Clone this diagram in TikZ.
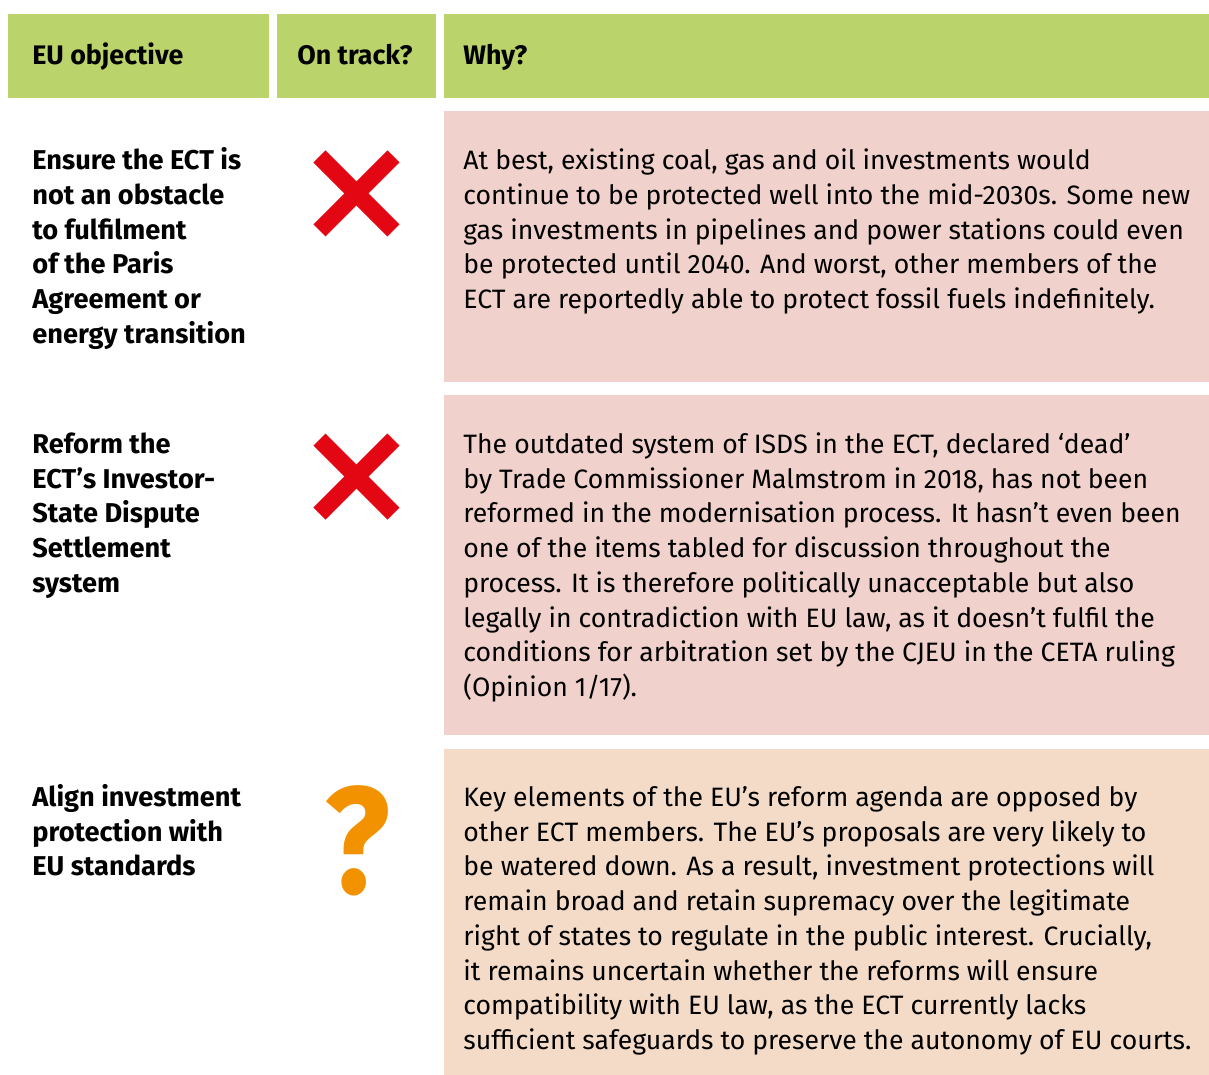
\documentclass[tikz,border=0pt]{standalone}
\usepackage{fontspec}
\setmainfont{Fira Sans}
\usepackage{xcolor}
\usetikzlibrary{positioning}

\definecolor{headgreen}{RGB}{186,211,106}
\definecolor{rowpink}{RGB}{240,209,203}
\definecolor{rowpeach}{RGB}{243,219,200}
\definecolor{nored}{RGB}{227,6,19}
\definecolor{maybeorange}{RGB}{243,146,0}

\begin{document}
\begin{tikzpicture}[x=0.5pt,y=-0.5pt,
    head/.style={anchor=base west,inner sep=0pt,font=\fontsize{13.4}{17.375}\selectfont\bfseries},
    goal/.style={anchor=base west,inner sep=0pt,align=left,font=\fontsize{13.6}{17.375}\selectfont\bfseries},
    why/.style={anchor=base west,inner sep=0pt,align=left,font=\fontsize{13.3}{17.375}\selectfont},
    nocross/.style={line width=8.5pt,nored}]
    \useasboundingbox (0,0) rectangle (1209,1075);

    % Header cells
    \fill[headgreen] (8,14) rectangle (269,98);
    \fill[headgreen] (277,14) rectangle (436,98);
    \fill[headgreen] (444,14) rectangle (1209,98);
    \node[head] (hgoal) at (32,65) {EU objective};
    \node[head] (htrack) at (297,65) {On track?};
    \node[head] (hwhy) at (463,65) {Why?};

    % Row backgrounds
    \fill[rowpink] (444,111) rectangle (1209,382);
    \fill[rowpink] (444,395) rectangle (1209,735);
    \fill[rowpeach] (444,749) rectangle (1209,1075);

    % Row 1 (nodes sit on their last baseline)
    \node[goal] (goal1) at (32,343.25) {Ensure the ECT is\\not an obstacle\\to fulfilment\\of the Paris\\Agreement or\\energy transition};
    \coordinate (mark1) at (356.4,193.4);
    \draw[nocross] (mark1) ++(-37,-37) -- ++(74,74);
    \draw[nocross] (mark1) ++(-37,37) -- ++(74,-74);
    \node[why] (why1) at (463,308.5) {At best, existing coal, gas and oil investments would\\continue to be protected well into the mid-2030s. Some new\\gas investments in pipelines and power stations could even\\be protected until 2040. And worst, other members of the\\ECT are reportedly able to protect fossil fuels indefinitely.};

    % Row 2
    \node[goal] (goal2) at (32,592.3) {Reform the\\ECT’s Investor-\\State Dispute\\Settlement\\system};
    \coordinate (mark2) at (356.4,476.6);
    \draw[nocross] (mark2) ++(-37,-37) -- ++(74,74);
    \draw[nocross] (mark2) ++(-37,37) -- ++(74,-74);
    \node[why] (why2) at (463,696.6) {The outdated system of ISDS in the ECT, declared ‘dead’\\by Trade Commissioner Malmstrom in 2018, has not been\\reformed in the modernisation process. It hasn’t even been\\one of the items tabled for discussion throughout the\\process. It is therefore politically unacceptable but also\\legally in contradiction with EU law, as it doesn’t fulfil the\\conditions for arbitration set by the CJEU in the CETA ruling\\(Opinion 1/17).};

    % Row 3
    \node[goal] (goal3) at (32,875.8) {Align investment\\protection with\\EU standards};
    \node[anchor=base,inner sep=0pt,text=maybeorange,font=\fontsize{76}{76}\selectfont\bfseries,xscale=0.9] (mark3) at (357.5,893) {?};
    \node[why] (why3) at (463,1049.55) {Key elements of the EU’s reform agenda are opposed by\\other ECT members. The EU’s proposals are very likely to\\be watered down. As a result, investment protections will\\remain broad and retain supremacy over the legitimate\\right of states to regulate in the public interest. Crucially,\\it remains uncertain whether the reforms will ensure\\compatibility with EU law, as the ECT currently lacks\\sufficient safeguards to preserve the autonomy of EU courts.};
\end{tikzpicture}
\end{document}
